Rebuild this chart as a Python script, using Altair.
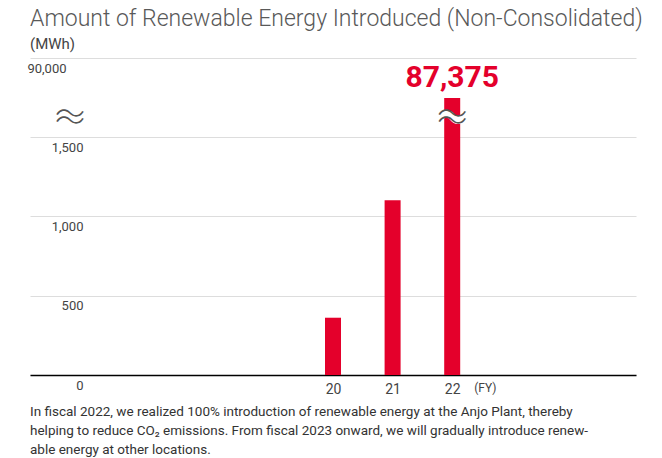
import altair as alt
import pandas as pd

years = [20, 21, 22]
values = [361, 1101, 87375]
y_ticks = [0, 500, 1000, 1500, 90000]
x_ticks = [20, 21, 22]
title_text = "Amount of Renewable Energy Introduced (Non-Consolidated)"
unit_text = "(MWh)"
fy_text = "(FY)"
note_lines = [
    "In fiscal 2022, we realized 100% introduction of renewable energy at the Anjo Plant, thereby",
    "helping to reduce CO\u2082 emissions. From fiscal 2023 onward, we will gradually introduce renew-",
    "able energy at other locations.",
]
highlight_year = 22
break_value = 86000

RED = "#e4002b"
FONT = "Roboto"
WAVE = "\uff5e"
WAVE_FONT = "Noto Sans CJK JP"

df = pd.DataFrame({"year": years, "value": values})
hl = df[df["year"] == highlight_year]

W, H = 606, 317
xscale = alt.Scale(domain=[15, 25], nice=False, zero=False)
yscale = alt.Scale(domain=[0, 1500, 86000, 90000], range=[H, 79, 61, 0], nice=False, zero=False)

base = alt.Chart(df)

bars = base.mark_bar(color=RED, size=16).encode(
    x=alt.X("year:Q", scale=xscale, axis=alt.Axis(
        values=x_ticks, title=None, grid=False, ticks=False, labelPadding=7,
        labelExpr="format(datum.value, 'd')",
        labelFontSize=14, labelColor="#444", labelFont=FONT,
        domainColor="#000", domainWidth=1.5)),
    y=alt.Y("value:Q", scale=yscale, axis=alt.Axis(
        values=y_ticks, title=None, grid=True, gridColor="#dddddd",
        labelExpr="format(datum.value, ',')",
        gridWidth=1, domain=False, ticks=False, tickSize=0,
        labelAlign="right", labelBaseline="top",
        labelPadding={"condition": {"test": "datum.value == 90000", "value": -36}, "value": -53},
        labelOffset=4,
        labelFontSize=13, labelColor="#444", labelFont=FONT)),
)

value_label = alt.Chart(hl).mark_text(
    color=RED, fontSize=30, fontWeight="bold", font=FONT, baseline="bottom", dy=-5
).encode(
    x=alt.X("year:Q", scale=xscale),
    y=alt.Y("value:Q", scale=yscale),
    text=alt.Text("value:Q", format=","),
)

one = alt.Data(values=[{}])

fy = alt.Chart(one).mark_text(
    text=fy_text, fontSize=12, color="#444", font=FONT, align="left", baseline="top", dy=8
).encode(x=alt.datum(22.37, scale=xscale), y=alt.datum(0, scale=yscale))


def wave(xenc, dy, color, weight, size=30):
    return alt.Chart(one).mark_text(
        text=WAVE, fontSize=size, color=color, font=WAVE_FONT, fontWeight=weight, dy=dy
    ).encode(x=xenc, y=alt.datum(break_value, scale=yscale))


bar_x = alt.datum(highlight_year, scale=xscale)
axis_x = alt.value(40)

breaks = [
    wave(bar_x, -2, "white", 900, 32),
    wave(bar_x, 1, "white", 900, 32),
    wave(bar_x, -4, "#555", 300),
    wave(bar_x, 3, "#555", 300),
    wave(axis_x, -4, "#555", 300),
    wave(axis_x, 3, "#555", 300),
]

note = alt.Chart(one).mark_text(
    text=note_lines, fontSize=13.5, color="#333", font=FONT, align="left",
    baseline="middle", lineHeight=19
).encode(x=alt.value(0), y=alt.value(H + 37))

chart = alt.layer(
    bars, value_label, fy, *breaks, note
).properties(
    width=W, height=H,
    title=alt.TitleParams(
        text=title_text, subtitle=unit_text, anchor="start", frame="group",
        font=FONT, fontSize=23, fontWeight=300, color="#595959",
        subtitleFont=FONT, subtitleFontSize=15, subtitleColor="#444",
        subtitlePadding=6, offset=6),
    autosize=alt.AutoSizeParams(type="none"),
    padding={"left": 30, "top": 58, "right": 26, "bottom": 83},
).configure_view(stroke=None)

chart.save("out.html", embed_options={"renderer": "svg", "actions": False})
